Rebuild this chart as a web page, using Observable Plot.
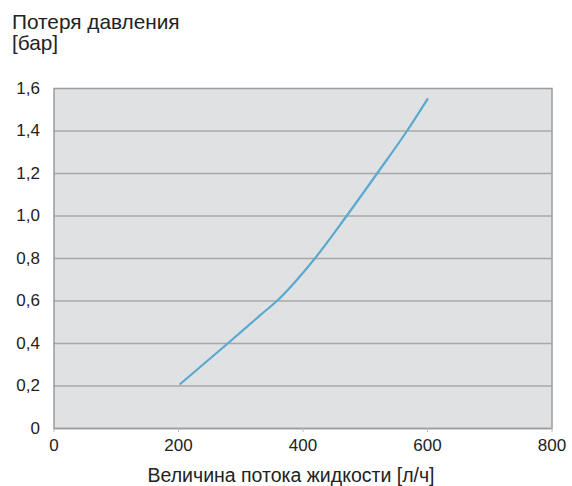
<!DOCTYPE html>
<html>
<head>
<meta charset="utf-8">
<script src="https://cdn.jsdelivr.net/npm/d3@7"></script>
<script src="https://cdn.jsdelivr.net/npm/@observablehq/plot@0.6"></script>
<style>
  body { margin: 0; background: #fff; font-family: "Liberation Sans", Arial, sans-serif; }
  #title { position: relative; height: 60px; }
  #title div { position: absolute; left: 12px; font-size: 20.8px; line-height: 23px; color: #222; }
</style>
</head>
<body>
<div id="title"><div style="top:10px">Потеря давления</div><div style="top:31px">[бар]</div></div>
<div id="chart"></div>
<script>
const flow = [203, 279, 332, 358, 419, 470, 519, 567, 600];
const pressure = [0.21, 0.40, 0.535, 0.60, 0.80, 1.00, 1.20, 1.40, 1.55];
const xTicks = [0, 200, 400, 600, 800];
const yTicks = [0, 0.2, 0.4, 0.6, 0.8, 1.0, 1.2, 1.4, 1.6];
const yTickLabels = ["0", "0,2", "0,4", "0,6", "0,8", "1,0", "1,2", "1,4", "1,6"];
const xLabel = "Величина потока жидкости [л/ч]";

const data = flow.map((f, i) => ({flow: f, p: pressure[i]}));

const chart = Plot.plot({
  width: 572,
  height: 426,
  marginLeft: 53.5,
  marginRight: 20.5,
  marginTop: 28,
  marginBottom: 58,
  style: {fontFamily: "Liberation Sans, Arial, sans-serif", fontSize: "17px", color: "#222", background: "#fff"},
  x: {domain: [0, 800], ticks: xTicks, label: null},
  y: {domain: [0, 1.6], ticks: yTicks, label: null},
  marks: [
    Plot.frame({fill: "#e0e1e3", stroke: null}),
    Plot.ruleY(yTicks.slice(1, -1), {stroke: "#a8a8a8", strokeWidth: 1.5}),
    Plot.frame({stroke: "#9c9c9c", strokeWidth: 1.5}),
    Plot.ruleY([0], {stroke: "#9c9c9c", strokeWidth: 1.5}),
    Plot.axisX({ticks: xTicks, tickSize: 4, tickPadding: 6, stroke: "#bbb", fontSize: 17, label: null}),
    Plot.axisY({ticks: yTicks, tickSize: 0, tickPadding: 14, fontSize: 17, label: null,
      tickFormat: (d) => yTickLabels[yTicks.indexOf(d)]}),
    Plot.text([xLabel], {frameAnchor: "bottom", dy: 53, dx: -12, fontSize: 19.5, fill: "#222"}),
    Plot.line(data, {x: "flow", y: "p", stroke: "#5ba9cf", strokeWidth: 2.2, curve: "monotone-x"})
  ]
});
document.getElementById("chart").appendChild(chart);
</script>
</body>
</html>
